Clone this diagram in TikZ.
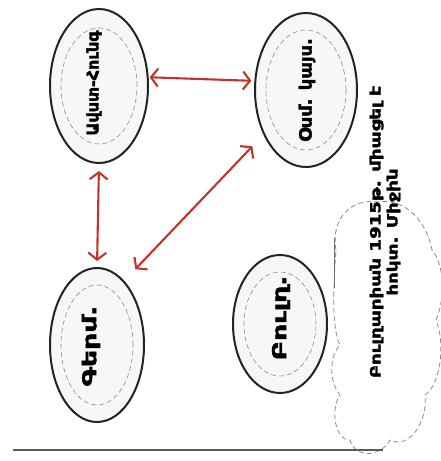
\documentclass[tikz,border=0pt]{standalone}
\usepackage{fontspec}
\newfontfamily\armfont[Script=Armenian, FakeBold=2.2]{DejaVu Sans Bold}
\usetikzlibrary{shapes.geometric,arrows.meta}
\definecolor{arrred}{RGB}{196,50,46}
\definecolor{edge}{RGB}{35,35,35}
\begin{document}
\begin{tikzpicture}[x=1pt,y=-1pt,
  country/.style={ellipse, draw=edge, line width=2pt, fill=black!3, inner sep=0pt},
  innerline/.style={draw=black!45, dash pattern=on 5pt off 3pt, line width=0.6pt},
  lbl/.style={rotate=90, inner sep=0pt},
  arr/.style={draw=arrred, line width=2.1pt, {Straight Barb[length=7pt,width=18pt]}-{Straight Barb[length=7pt,width=18pt]}}]
\useasboundingbox (0,0) rectangle (441,461);
\fill[white] (0,0) rectangle (441,461);
% ellipses
\node[country, minimum width=98pt, minimum height=154pt] (A) at (99,86) {};
\node[country, minimum width=102pt, minimum height=154pt] (B) at (306,90) {};
\node[country, minimum width=94pt, minimum height=154pt] (C) at (97,345) {};
\node[country, minimum width=94pt, minimum height=138pt] (D) at (280,324) {};
% inner dashed outlines
\draw[innerline] (99,86) ellipse [x radius=38pt, y radius=58pt];
\draw[innerline] (306,90) ellipse [x radius=40pt, y radius=60pt];
\draw[innerline] (97,345) ellipse [x radius=36pt, y radius=60pt];
\draw[innerline] (280,324) ellipse [x radius=36pt, y radius=52pt];
% labels
\node[lbl, font=\armfont\fontsize{16}{18}\selectfont] (tA) at (94,83) {\scalebox{1.0}[1]{Ավստ-Հունգ}};
\node[lbl, font=\armfont\fontsize{17}{19}\selectfont] (tB) at (307,90) {\scalebox{1.05}[1]{Օսմ. կայս.}};
\node[lbl, font=\armfont\fontsize{19}{21}\selectfont] (tC) at (91,346) {\scalebox{1.4}[1]{Գերմ.}};
\node[lbl, font=\armfont\fontsize{19}{21}\selectfont] (tD) at (281,318) {\scalebox{1.4}[1]{Բուլղ.}};
% arrows
\draw[arr, shorten <=1pt, shorten >=3pt] (A.10) -- (B.170);
\draw[arr, shorten <=7pt, shorten >=6pt] (A.south) -- (C.north);
\draw[arr, shorten <=16pt, shorten >=16pt] (B) -- (C.67);
% cloud callout
\draw[innerline, line width=0.8pt]
  (336,250) .. controls (330,215) and (355,198) .. (378,202)
  .. controls (400,198) and (425,215) .. (432,250)
  .. controls (445,265) and (445,300) .. (436,320)
  .. controls (446,345) and (440,385) .. (425,395)
  .. controls (428,420) and (410,450) .. (390,440)
  .. controls (380,458) and (355,458) .. (350,440)
  .. controls (335,440) and (330,410) .. (340,395)
  .. controls (328,380) and (330,355) .. (340,345)
  .. controls (332,330) and (333,290) .. (336,250) -- cycle;
\node[lbl, align=center, font=\armfont\fontsize{14}{17}\selectfont] (note) at (385,232)
  {\scalebox{1.3}[1]{Բուլղարիան 1915թ. միացել է}\\\scalebox{1.3}[1]{հոկտ. Միջին}};
\draw[black!55, line width=1pt] (334,238) -- (334,288);
% base line
\draw[black!65, line width=1.5pt] (13,450) -- (383,450);
\end{tikzpicture}
\end{document}
